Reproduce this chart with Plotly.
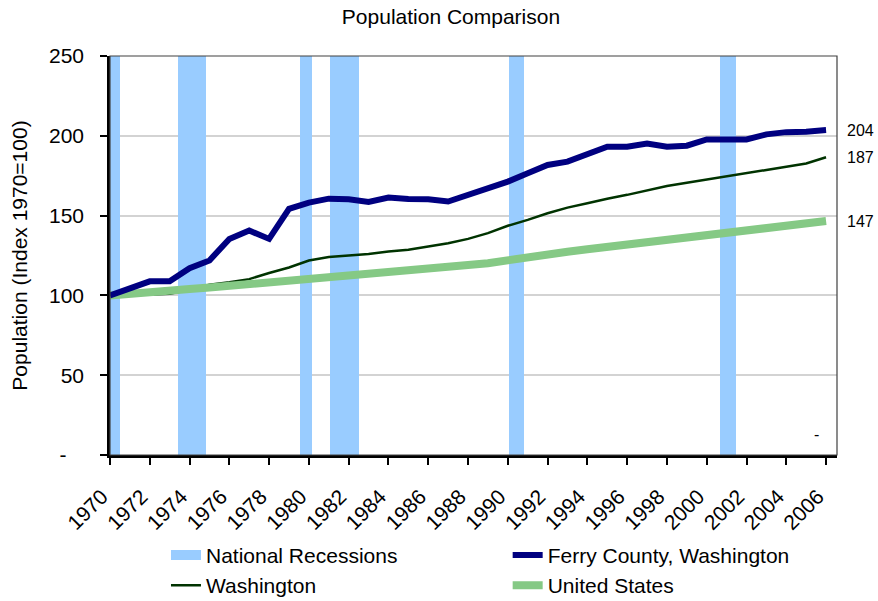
import plotly.graph_objects as go

years = list(range(1970, 2007))

ferry_county = [100, 104, 108.8, 108.8, 117, 121.9, 135.4, 140.6, 135.4, 154.2,
                158.1, 160.6, 160.2, 158.6, 161.3, 160.4, 160.2, 158.8, 163, 167.1,
                171.3, 176.5, 181.7, 183.8, 188.6, 193.1, 193.1, 195.2, 193.1, 193.8,
                197.7, 197.7, 197.7, 200.9, 202.3, 202.6, 203.6]

washington = [100, 100.6, 100.5, 101.0, 103.5, 106.7, 108.3, 110.2, 114.0, 117.5,
              121.9, 124.0, 125.0, 125.9, 127.5, 128.6, 130.6, 132.7, 135.4, 139.0,
              143.6, 147.3, 151.5, 155.0, 157.7, 160.6, 163.0, 166.0, 168.6, 170.6,
              172.7, 174.8, 176.9, 178.6, 180.6, 182.7, 186.6]

united_states = [100, 101.3, 102.3, 103.2, 104.0, 104.9, 105.9, 106.9, 108.0, 109.1,
                 110.9, 112.0, 113.0, 114.0, 115.0, 116.0, 117.0, 118.0, 119.0, 120.2,
                 122.3, 124.0, 125.8, 127.4, 128.9, 130.4, 131.9, 133.5, 135.1, 136.7,
                 138.5, 139.9, 141.2, 142.5, 143.8, 145.2, 146.6]

recession_start = [1969.9, 1973.42, 1979.55, 1981.05, 1990.05, 2000.68]
recession_end = [1970.5, 1974.82, 1980.15, 1982.5, 1990.8, 2001.45]
recession_height = 250

y_tickvals = [0, 50, 100, 150, 200, 250]
y_ticktext = ["-\u00a0\u00a0\u00a0", "50", "100", "150", "200", "250"]
x_tickvals = list(range(1970, 2007, 2))
x_ticktext = [str(v) + "\u00a0\u00a0" for v in x_tickvals]

FONT = "Liberation Sans, Arial, Helvetica, sans-serif"
RECESSION_COLOR = "#99CCFF"

fig = go.Figure()

fig.add_trace(go.Bar(
    x=[(s + e) / 2 for s, e in zip(recession_start, recession_end)],
    width=[e - s for s, e in zip(recession_start, recession_end)],
    y=[recession_height] * len(recession_start),
    base=0,
    marker=dict(color=RECESSION_COLOR, line=dict(width=0)),
    name="National Recessions", showlegend=False,
))
# legend entry for the recession bands (wide swatch like the original)
fig.add_trace(go.Scatter(
    x=[None], y=[None], mode="lines",
    line=dict(color=RECESSION_COLOR, width=14),
    name="National Recessions", legend="legend", legendrank=1,
))

fig.add_trace(go.Scatter(
    x=years, y=washington, mode="lines",
    line=dict(color="#003300", width=2.5),
    name="Washington", legend="legend", legendrank=2,
))

fig.add_trace(go.Scatter(
    x=years, y=united_states, mode="lines",
    line=dict(color="#85C985", width=8),
    name="United States", legend="legend2", legendrank=2,
))

fig.add_trace(go.Scatter(
    x=years, y=ferry_county, mode="lines",
    line=dict(color="#000080", width=6),
    name="Ferry County, Washington", legend="legend2", legendrank=1,
))

# end-of-series labels
for series in (ferry_county, washington, united_states):
    fig.add_annotation(
        x=1, xref="paper", y=series[-1], yref="y",
        text=str(round(series[-1])), showarrow=False,
        xanchor="left", xshift=8,
        font=dict(family=FONT, size=16, color="black"),
    )

fig.add_annotation(
    x=2005.5, y=13, text="-", showarrow=False,
    font=dict(family=FONT, size=16, color="black"),
)

# plot area frame
fig.add_shape(type="rect", xref="paper", yref="paper", x0=0, x1=1, y0=0, y1=1,
              line=dict(color="#404040", width=1.2), layer="above")

legend_style = dict(orientation="v", xanchor="left", yanchor="top",
                    font=dict(family=FONT, size=21, color="black"),
                    bgcolor="rgba(0,0,0,0)", traceorder="normal",
                    tracegroupgap=0)

fig.update_layout(
    width=878, height=601,
    margin=dict(l=110, r=41, t=56, b=146, autoexpand=False),
    paper_bgcolor="white", plot_bgcolor="white",
    font=dict(family=FONT, size=21, color="black"),
    title=dict(text="Population Comparison", x=451 / 878, xanchor="center",
               y=1 - 17 / 601, yanchor="middle", automargin=False,
               font=dict(family=FONT, size=21, color="black")),
    bargap=0,
    showlegend=True,
    legend=dict(x=0.077, y=-0.2, **legend_style),
    legend2=dict(x=0.547, y=-0.2, **legend_style),
    xaxis=dict(range=[1970, 2006.55], tickvals=x_tickvals, ticktext=x_ticktext,
               tickangle=-45, ticks="outside", ticklen=7, tickwidth=2,
               tickcolor="black", showline=True, linecolor="black", linewidth=2.5,
               showgrid=False, zeroline=False, automargin=False,
               ticklabelstandoff=3,
               tickfont=dict(family=FONT, size=21, color="black")),
    yaxis=dict(range=[0, 250], tickvals=y_tickvals, ticktext=y_ticktext,
               ticks="outside", ticklen=7, tickwidth=2, tickcolor="black",
               showline=True, linecolor="black", linewidth=2.5,
               showgrid=True, gridcolor="#D3D3D3", gridwidth=1.5, zeroline=False,
               ticklabelstandoff=12, automargin=False,
               title=dict(text="Population (Index 1970=100)", standoff=16,
                          font=dict(family=FONT, size=21, color="black")),
               tickfont=dict(family=FONT, size=21, color="black")),
)

fig.write_html("out.html",
               config={"displayModeBar": False},
               post_script="document.body.style.margin='0px';document.body.style.padding='0px';")
